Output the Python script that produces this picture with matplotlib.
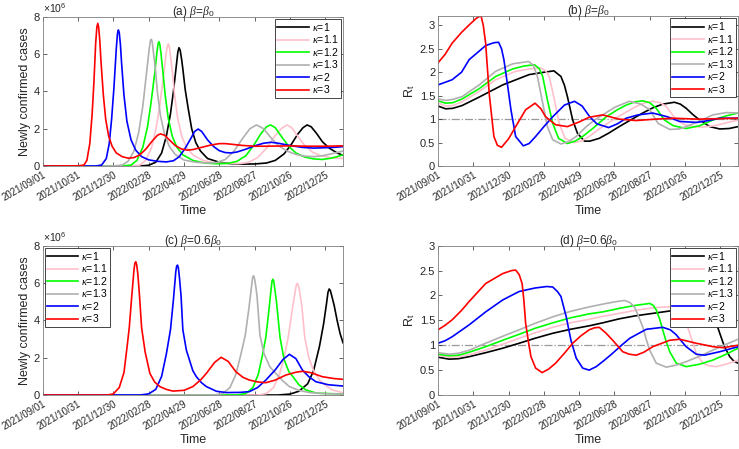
import numpy as np
import pandas as pd
import matplotlib
matplotlib.use('Agg')
import matplotlib.pyplot as plt

plt.rcParams['font.family'] = ['Liberation Sans', 'DejaVu Sans']
plt.rcParams['mathtext.fontset'] = 'custom'
plt.rcParams['mathtext.rm'] = 'Liberation Sans'
plt.rcParams['mathtext.it'] = 'Liberation Serif:italic'

START = '2021-09-01'
TICK_DAYS = [0, 60, 120, 180, 240, 300, 360, 420, 480]
XMAX = 510

KAPPAS = ['1', '1.1', '1.2', '1.3', '2', '3']
COLORS = ['black', '#ffc0cb', '#00ff00', '#b0b0b0', '#0000ff', '#ff0000']

# ---- panel (a): newly confirmed cases (x1e6), beta = beta0 ----  (day, value)
A_K1 = [(0, 0), (165, 0.0), (180, 0.04), (192, 0.2), (202, 0.7), (210, 1.6), (217, 2.8), (222, 4.0),
        (227, 5.4), (229.5, 6.1), (231.5, 6.34), (233.5, 6.2), (236, 5.7), (238, 5.2), (242, 4.1),
        (247, 3.1), (253, 2.0), (260, 1.25),
        (268, 0.8), (280, 0.4), (300, 0.2), (320, 0.12), (340, 0.1), (360, 0.11), (380, 0.16), (395, 0.3),
        (410, 0.65), (422, 1.15), (433, 1.7), (442, 2.05), (449, 2.2), (456, 2.1), (465, 1.75), (475, 1.3),
        (487, 0.95), (500, 0.7), (510, 0.57)]
A_K11 = [(0, 0), (150, 0.0), (165, 0.05), (175, 0.3), (185, 1.0), (193, 2.1), (199, 3.3), (205, 4.8),
         (210, 6.1), (212, 6.45), (213.5, 6.54), (215, 6.4), (217, 5.9), (220, 5.1), (224, 3.8), (229, 2.6),
         (236, 1.6), (244, 1.0),
         (255, 0.6), (272, 0.3), (292, 0.17), (315, 0.13), (335, 0.13), (350, 0.2), (365, 0.45), (380, 0.95),
         (393, 1.55), (405, 2.0), (415, 2.2), (423, 2.05), (433, 1.6), (445, 1.1), (458, 0.75), (472, 0.55),
         (490, 0.44), (510, 0.4)]
A_K12 = [(0, 0), (135, 0.0), (150, 0.05), (160, 0.3), (170, 1.0), (178, 2.1), (184, 3.4), (190, 4.9),
         (194, 6.1), (196, 6.55), (197.5, 6.66), (199, 6.5), (201, 6.0), (204, 5.1), (208, 3.8), (213, 2.6),
         (220, 1.6), (228, 1.0),
         (238, 0.6), (255, 0.3), (275, 0.16), (295, 0.12), (315, 0.14), (330, 0.25), (345, 0.55), (358, 1.1),
         (370, 1.7), (380, 2.1), (387, 2.2), (395, 2.05), (405, 1.6), (418, 1.05), (430, 0.7), (445, 0.48),
         (460, 0.38), (475, 0.35), (490, 0.42), (500, 0.5), (510, 0.6)]
A_K13 = [(0, 0), (120, 0.0), (135, 0.05), (145, 0.25), (155, 0.8), (163, 1.8), (170, 3.2), (176, 4.9),
         (181, 6.3), (183, 6.72), (184.5, 6.79), (186, 6.65), (188, 6.1), (191, 5.3), (195, 3.9), (200, 2.7),
         (207, 1.7), (215, 1.05),
         (225, 0.62), (240, 0.32), (260, 0.2), (280, 0.16), (295, 0.18), (310, 0.35), (325, 0.8), (340, 1.5),
         (352, 2.0), (363, 2.2), (375, 2.0), (388, 1.5), (400, 1.1), (415, 0.8), (430, 0.62), (445, 0.53),
         (460, 0.5), (475, 0.55), (490, 0.65), (510, 0.8)]
A_K2 = [(0, 0), (90, 0.0), (100, 0.05), (108, 0.4), (113, 1.2), (117, 2.5), (121, 4.2), (125, 6.3),
        (127, 7.1), (128.5, 7.29), (130, 7.15), (132, 6.5), (134, 5.5), (138, 3.8), (143, 2.4), (150, 1.4),
        (158, 0.85), (168, 0.5),
        (180, 0.33), (195, 0.25), (210, 0.22), (222, 0.28), (232, 0.5), (242, 0.95), (252, 1.5), (258, 1.85),
        (264, 1.98), (270, 1.85), (280, 1.4), (290, 1.05), (300, 0.82), (310, 0.72), (320, 0.7), (330, 0.75),
        (345, 0.9), (360, 1.08), (375, 1.22), (388, 1.27), (400, 1.22), (420, 1.1), (440, 1.0), (460, 0.96),
        (480, 0.98), (495, 1.0), (510, 1.04)]
A_K3 = [(0, 0), (60, 0.01), (70, 0.05), (75, 0.3), (80, 1.2), (84, 2.8), (87, 4.5), (90, 6.6),
        (92, 7.45), (93.5, 7.64), (95, 7.45), (97, 6.7), (99, 5.6), (103, 3.8), (107, 2.5), (112, 1.6),
        (118, 1.05), (125, 0.7), (135, 0.5),
        (145, 0.42), (155, 0.45), (165, 0.6), (175, 0.9), (185, 1.3), (195, 1.65), (200, 1.72), (207, 1.65),
        (215, 1.4), (225, 1.1), (235, 0.92), (245, 0.85), (255, 0.88), (270, 1.0), (285, 1.12), (300, 1.2),
        (310, 1.2), (325, 1.15), (340, 1.1), (360, 1.06), (380, 1.06), (400, 1.07), (420, 1.08), (450, 1.06),
        (480, 1.06), (510, 1.08)]

# ---- panel (b): R_t, beta = beta0 ----
B_K1 = [(0, 1.28), (13, 1.22), (25, 1.23), (41, 1.29), (70, 1.47), (110, 1.73), (155, 1.95), (180, 2.0),
        (197, 2.03), (209, 1.91), (215, 1.72), (220, 1.48), (229, 0.98), (237, 0.7), (249, 0.53), (258, 0.53),
        (274, 0.59), (290, 0.7), (308, 0.84), (330, 1.0), (348, 1.13), (365, 1.24), (382, 1.32), (402, 1.36),
        (412, 1.32), (422, 1.23), (433, 1.1), (445, 0.98), (462, 0.84), (479, 0.79), (495, 0.8), (510, 0.84)]
B_K11 = [(0, 1.34), (13, 1.28), (25, 1.29), (41, 1.37), (70, 1.59), (98, 1.84), (132, 2.02), (155, 2.07),
         (175, 2.09), (183, 2.03), (189, 1.91), (198, 1.41), (206, 0.91), (216, 0.59), (232, 0.5), (245, 0.54),
         (257, 0.63), (275, 0.8), (297, 0.98), (317, 1.13), (337, 1.27), (352, 1.35), (365, 1.38), (378, 1.35),
         (388, 1.27), (397, 1.12), (405, 0.98), (420, 0.88), (435, 0.84), (450, 0.83), (470, 0.86), (490, 0.92),
         (510, 0.98)]
B_K12 = [(0, 1.39), (13, 1.34), (25, 1.35), (41, 1.43), (70, 1.65), (98, 1.91), (127, 2.07), (145, 2.13),
         (164, 2.16), (172, 2.08), (178, 1.91), (186, 1.41), (195, 0.91), (205, 0.59), (220, 0.48), (233, 0.53),
         (246, 0.63), (265, 0.82), (286, 1.05), (305, 1.2), (320, 1.3), (335, 1.37), (348, 1.39), (360, 1.35),
         (371, 1.23), (385, 0.98), (400, 0.86), (422, 0.8), (445, 0.86), (467, 0.98), (490, 1.07), (510, 1.13)]
B_K13 = [(0, 1.43), (13, 1.4), (25, 1.42), (41, 1.48), (70, 1.73), (98, 2.02), (127, 2.18), (154, 2.23),
         (162, 2.15), (169, 1.91), (178, 1.34), (186, 0.84), (195, 0.56), (209, 0.47), (222, 0.52), (235, 0.63),
         (252, 0.84), (266, 0.98), (280, 1.09), (300, 1.25), (325, 1.38), (345, 1.32), (360, 1.2), (374, 0.91),
         (394, 0.78), (410, 0.79), (422, 0.84), (445, 0.96), (467, 1.09), (490, 1.14), (510, 1.13)]
B_K2 = [(0, 1.73), (24, 1.84), (40, 2.0), (53, 2.27), (70, 2.45), (81, 2.57), (95, 2.63), (103, 2.64),
        (108, 2.5), (112, 2.27), (118, 1.75), (124, 1.2), (132, 0.63), (145, 0.43), (155, 0.48), (166, 0.63),
        (180, 0.84), (195, 1.05), (215, 1.3), (232, 1.38), (245, 1.28), (258, 1.05), (270, 0.9), (290, 0.82),
        (305, 0.9), (320, 1.02), (340, 1.09), (365, 1.13), (390, 1.05), (411, 0.95), (440, 0.93), (460, 0.97),
        (479, 1.02), (510, 1.02)]
B_K3 = [(0, 2.2), (12, 2.38), (24, 2.62), (40, 2.85), (53, 3.01), (65, 3.15), (73, 3.21), (77, 3.0),
        (81, 2.62), (87, 1.55), (95, 0.63), (101, 0.44), (108, 0.4), (120, 0.58), (132, 0.84), (149, 1.2),
        (165, 1.34), (175, 1.22), (183, 1.05), (200, 0.88), (220, 0.84), (240, 0.94), (257, 1.04), (280, 1.09),
        (308, 1.0), (337, 0.97), (370, 1.0), (400, 1.02), (440, 1.0), (480, 1.01), (510, 1.02)]

# ---- panel (c): newly confirmed cases (x1e6), beta = 0.6 beta0 ----
C_K1 = [(0, 0), (400, 0.0), (420, 0.05), (435, 0.2), (450, 0.6), (460, 1.3), (470, 2.6), (477, 3.8),
        (482, 4.9), (484.5, 5.5), (486.5, 5.68), (488.5, 5.6), (491, 5.3), (495, 4.8), (500, 4.0),
        (505, 3.3), (510, 2.8)]
C_K11 = [(0, 0), (365, 0.0), (380, 0.08), (392, 0.4), (402, 1.1), (410, 2.0), (417, 3.1), (424, 4.6),
         (429, 5.6), (431, 5.92), (432.5, 5.98), (434, 5.88), (436, 5.6), (440, 4.8), (445, 3.1), (452, 2.0),
         (460, 1.3), (470, 0.8), (481, 0.5), (492, 0.27), (510, 0.12)]
C_K12 = [(0, 0), (330, 0.0), (345, 0.08), (357, 0.4), (366, 1.1), (373, 2.1), (379, 3.1), (384, 4.5),
         (388, 5.7), (389.5, 6.12), (391, 6.2), (392.5, 6.08), (394.5, 5.6), (397, 5.0), (403, 3.1),
         (410, 1.9), (418, 1.25), (425, 0.98), (435, 0.55), (447, 0.27), (465, 0.1), (510, 0.05)]
C_K13 = [(0, 0), (290, 0.0), (306, 0.08), (318, 0.4), (328, 1.1), (336, 2.1), (344, 3.2), (350, 4.6),
         (355, 5.9), (356.5, 6.3), (358, 6.39), (359.5, 6.28), (361.5, 5.9), (364, 5.3), (369, 3.2),
         (376, 2.2), (386, 1.5), (396, 1.16), (408, 0.75), (419, 0.45), (435, 0.25), (453, 0.13),
         (480, 0.07), (510, 0.05)]
C_K2 = [(0, 0), (165, 0.0), (180, 0.06), (192, 0.3), (202, 1.0), (210, 2.2), (217, 3.5), (222, 5.1),
        (226, 6.6), (227.5, 6.9), (229, 6.96), (230.5, 6.8), (232.5, 6.2), (235, 5.3), (238, 3.5), (244, 2.4),
        (250, 1.8), (255, 1.3),
        (261, 0.98), (270, 0.65), (278, 0.45), (295, 0.2), (312, 0.13), (335, 0.14), (351, 0.18), (365, 0.4),
        (379, 0.8), (395, 1.35), (408, 1.9), (419, 2.18), (430, 1.95), (441, 1.34), (452, 0.98), (464, 0.71),
        (485, 0.55), (510, 0.48)]
C_K3 = [(0, 0), (110, 0.0), (120, 0.06), (130, 0.4), (138, 1.2), (143, 2.5), (147, 3.6), (151, 5.2),
        (155, 6.7), (156.5, 7.05), (158, 7.14), (159.5, 7.0), (161.5, 6.5), (164, 5.5), (168, 3.6),
        (174, 2.3), (182, 1.16), (190, 0.7),
        (199, 0.45), (210, 0.3), (221, 0.21), (240, 0.25), (255, 0.45), (268, 0.8), (278, 1.16), (292, 1.75),
        (303, 2.02), (315, 1.8), (328, 1.25), (340, 0.95), (351, 0.8), (365, 0.7), (379, 0.66), (395, 0.8),
        (413, 1.07), (430, 1.22), (441, 1.27), (455, 1.2), (475, 0.98), (495, 0.88), (510, 0.84)]

# ---- panel (d): R_t, beta = 0.6 beta0 ----
D_K1 = [(0, 0.76), (19, 0.72), (35, 0.73), (53, 0.77), (81, 0.85), (110, 0.94), (138, 1.04), (165, 1.14),
        (195, 1.24), (225, 1.32), (257, 1.39), (280, 1.45), (308, 1.53), (335, 1.59), (365, 1.64), (395, 1.69),
        (422, 1.73), (445, 1.75), (458, 1.74), (467, 1.62), (473, 1.45), (479, 1.24), (487, 0.97),
        (496, 0.77), (503, 0.68), (510, 0.64)]
D_K11 = [(0, 0.8), (19, 0.76), (35, 0.77), (53, 0.81), (81, 0.9), (110, 1.02), (138, 1.14), (165, 1.25),
         (195, 1.36), (225, 1.45), (257, 1.52), (280, 1.58), (308, 1.64), (335, 1.7), (365, 1.75), (385, 1.77),
         (399, 1.77), (409, 1.72), (416, 1.64), (422, 1.45), (428, 1.24), (439, 0.84), (450, 0.64), (460, 0.59),
         (473, 0.57), (490, 0.62), (510, 0.7)]
D_K12 = [(0, 0.82), (19, 0.79), (35, 0.8), (53, 0.86), (81, 0.97), (110, 1.1), (138, 1.22), (165, 1.34),
         (195, 1.45), (225, 1.55), (257, 1.63), (280, 1.67), (308, 1.74), (335, 1.8), (360, 1.84), (366, 1.8),
         (371, 1.71), (377, 1.52), (382, 1.31), (388, 1.07), (394, 0.87), (405, 0.64), (422, 0.57), (445, 0.62),
         (467, 0.7), (490, 0.82), (510, 0.94)]
D_K13 = [(0, 0.85), (19, 0.82), (35, 0.84), (53, 0.9), (81, 1.04), (110, 1.18), (138, 1.31), (165, 1.44),
         (195, 1.57), (225, 1.68), (257, 1.77), (286, 1.84), (305, 1.88), (317, 1.9), (326, 1.86), (334, 1.77),
         (341, 1.58), (348, 1.37), (354, 1.12), (360, 0.9), (371, 0.64), (388, 0.56), (405, 0.6), (422, 0.67),
         (445, 0.78), (467, 0.9), (490, 1.02), (510, 1.12)]
D_K2 = [(0, 1.04), (12, 1.09), (24, 1.17), (53, 1.41), (81, 1.67), (110, 1.91), (138, 2.08), (165, 2.15),
        (185, 2.18), (195, 2.17), (203, 2.08), (209, 1.98), (218, 1.57), (226, 1.1), (235, 0.74), (246, 0.54),
        (257, 0.5), (269, 0.57), (283, 0.7), (297, 0.84), (312, 1.0), (326, 1.14), (354, 1.32), (382, 1.36),
        (395, 1.31), (405, 1.21), (414, 1.08), (422, 0.97), (439, 0.82), (453, 0.8), (479, 0.87), (510, 0.97)]
D_K3 = [(0, 1.31), (12, 1.4), (24, 1.51), (40, 1.7), (53, 1.88), (81, 2.24), (110, 2.44), (125, 2.5),
        (132, 2.51), (138, 2.42), (143, 2.24), (146, 1.9), (149, 1.44), (154, 1.05), (158, 0.77), (166, 0.54),
        (177, 0.45), (188, 0.52), (200, 0.64), (215, 0.84), (229, 1.04), (243, 1.19), (257, 1.31), (266, 1.35),
        (274, 1.36), (285, 1.25), (297, 1.1), (314, 0.87), (325, 0.82), (337, 0.8), (350, 0.86), (365, 0.97),
        (394, 1.1), (411, 1.12), (439, 1.04), (468, 0.97), (485, 0.95), (510, 1.0)]

PANEL_A = [A_K1, A_K11, A_K12, A_K13, A_K2, A_K3]
PANEL_B = [B_K1, B_K11, B_K12, B_K13, B_K2, B_K3]
PANEL_C = [C_K1, C_K11, C_K12, C_K13, C_K2, C_K3]
PANEL_D = [D_K1, D_K11, D_K12, D_K13, D_K2, D_K3]

tick_labels = [(pd.Timestamp(START) + pd.Timedelta(days=d)).strftime('%Y/%m/%d') for d in TICK_DAYS]

fig = plt.figure(figsize=(7.39, 4.49), dpi=100)
W, H = 739, 449


def make_ax(x0, x1, ytop, ybot):
    return fig.add_axes([x0 / W, 1 - ybot / H, (x1 - x0) / W, (ybot - ytop) / H])


def style(ax, title, ylabel, ylim, yticks, yticklabels):
    ax.set_xlim(0, XMAX)
    ax.set_ylim(*ylim)
    ax.set_xticks(TICK_DAYS)
    ax.set_xticklabels(tick_labels, rotation=30, ha='right', rotation_mode='anchor', fontsize=7)
    ax.set_yticks(yticks)
    ax.set_yticklabels(yticklabels, fontsize=8)
    ax.tick_params(direction='in', top=True, right=True, length=3, width=0.5, colors='#262626',
                   pad=2)
    ax.tick_params(axis='x', pad=3)
    for s in ax.spines.values():
        s.set_color('#7f7f7f')
        s.set_linewidth(0.6)
    ax.set_title(title, fontsize=8.5, pad=1.5, color='#262626')
    ax.set_ylabel(ylabel, fontsize=9, color='#262626', labelpad=2)
    ax.set_xlabel('Time', fontsize=9, color='#262626', labelpad=1)


def draw(ax, series, loc, hline=False):
    if hline:
        ax.plot([0, XMAX], [1, 1], color='#999999', ls='-.', lw=0.9, zorder=1)
    for pts, col, k in zip(series, COLORS, KAPPAS):
        d = [p[0] for p in pts]
        v = [p[1] for p in pts]
        ax.plot(d, v, color=col, lw=1.2, label=r'$\kappa$=' + k, zorder=2)
    leg = ax.legend(loc=loc, fontsize=7.5, frameon=True, fancybox=False, framealpha=1,
                    edgecolor='#262626', borderpad=0.2, labelspacing=0.05, handlelength=3.0,
                    handletextpad=0.3, borderaxespad=0.2)
    leg.get_frame().set_linewidth(0.6)


ax_a = make_ax(42.7, 343, 16.7, 166)
draw(ax_a, PANEL_A, 'upper right')
style(ax_a, r'(a) $\beta$=$\beta_0$', 'Newly confirmed cases', (0, 8), [0, 2, 4, 6, 8],
      ['0', '2', '4', '6', '8'])
ax_a.text(0, 1.01, r'$\times10^6$', transform=ax_a.transAxes, fontsize=7.5, color='#262626',
          va='bottom')

ax_b = make_ax(438, 738, 16, 166)
draw(ax_b, PANEL_B, 'upper right', hline=True)
style(ax_b, r'(b) $\beta$=$\beta_0$', r'R$_\mathrm{t}$', (0, 3.2), [0, 0.5, 1, 1.5, 2, 2.5, 3],
      ['0', '0.5', '1', '1.5', '2', '2.5', '3'])

ax_c = make_ax(42.7, 343, 245.7, 395)
draw(ax_c, PANEL_C, 'upper left')
style(ax_c, r'(c) $\beta$=0.6$\beta_0$', 'Newly confirmed cases', (0, 8), [0, 2, 4, 6, 8],
      ['0', '2', '4', '6', '8'])
ax_c.text(0, 1.01, r'$\times10^6$', transform=ax_c.transAxes, fontsize=7.5, color='#262626',
          va='bottom')

ax_d = make_ax(438, 738, 245.7, 395)
draw(ax_d, PANEL_D, 'upper right', hline=True)
style(ax_d, r'(d) $\beta$=0.6$\beta_0$', r'R$_\mathrm{t}$', (0, 3), [0, 0.5, 1, 1.5, 2, 2.5, 3],
      ['0', '0.5', '1', '1.5', '2', '2.5', '3'])

fig.savefig('out.png', dpi=100)
